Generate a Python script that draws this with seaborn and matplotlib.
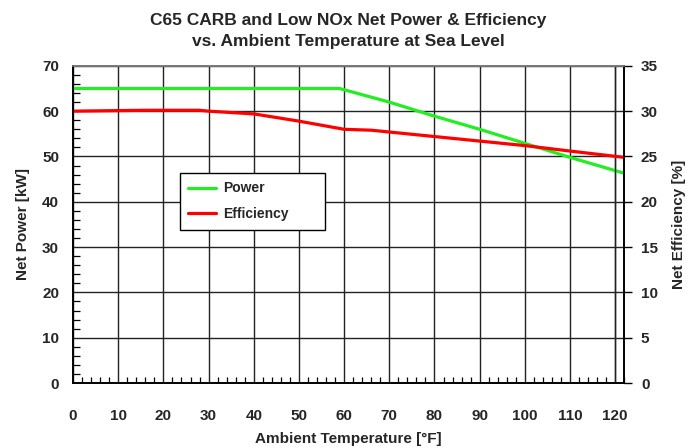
import matplotlib
matplotlib.use("Agg")
import matplotlib.pyplot as plt
import seaborn as sns
import pandas as pd
from matplotlib.ticker import MultipleLocator

# Data
power_temp = [0, 59, 70, 80, 90, 100, 110, 122]
power_kw = [65.0, 65.0, 62.0, 58.9, 56.0, 52.9, 49.8, 46.3]

eff_temp = [0, 16, 28, 30, 40, 50, 60, 66, 70, 80, 90, 100, 110, 122]
eff_pct = [30.0, 30.1, 30.1, 30.0, 29.7, 28.9, 28.0, 27.9, 27.7, 27.2, 26.7, 26.2, 25.6, 24.9]

x_ticks = list(range(0, 121, 10))
left_ticks = list(range(0, 71, 10))
right_ticks = list(range(0, 36, 5))

sns.set_theme(style="white")
plt.rcParams['font.family'] = ['Liberation Sans', 'DejaVu Sans']
plt.rcParams['font.weight'] = 'bold'

fig = plt.figure(figsize=(6.89, 4.48), dpi=100)
ax = fig.add_axes([0.106, 0.145, 0.800, 0.708])

df_p = pd.DataFrame({"T": power_temp, "P": power_kw})
df_e = pd.DataFrame({"T": eff_temp, "E": eff_pct})

sns.lineplot(data=df_p, x="T", y="P", ax=ax, color="#22EE22", linewidth=2.3,
             label="Power", legend=False)
ax2 = ax.twinx()
sns.lineplot(data=df_e, x="T", y="E", ax=ax2, color="#FF0000", linewidth=2.3,
             label="Efficiency", legend=False)

ax.set_xlim(0, 122)
ax.set_ylim(0, 70)
ax2.set_ylim(0, 35)
ax.set_xticks(x_ticks)
ax.set_yticks(left_ticks)
ax2.set_yticks(right_ticks)
ax.xaxis.set_minor_locator(MultipleLocator(2))
ax.yaxis.set_minor_locator(MultipleLocator(2))

ax.grid(True, which="major", color="#222222", linewidth=1.0)
ax.grid(False, which="minor")
ax.axvline(120, color="#222222", linewidth=1.0)

for a in (ax, ax2):
    for s in a.spines.values():
        s.set_color("black")
        s.set_linewidth(1.2)
ax.spines["top"].set_color("#777777")
ax2.spines["top"].set_color("#777777")

ax.tick_params(axis="x", which="major", direction="in", length=0, labelsize=11, pad=19)
ax.tick_params(axis="x", which="minor", direction="in", length=4, width=0.9, color="black", bottom=True)
ax.tick_params(axis="y", which="major", direction="in", length=0, labelsize=11, pad=10)
ax.tick_params(axis="y", which="minor", direction="in", length=5, width=0.9, color="black", left=True)
ax2.tick_params(axis="y", which="major", direction="out", length=6, width=1.0, color="black",
                labelsize=11, pad=6)

for lbl in ax.get_xticklabels() + ax.get_yticklabels() + ax2.get_yticklabels():
    lbl.set_fontweight("bold")

ax.set_xlabel("Ambient Temperature [°F]", fontsize=11, fontweight="bold", labelpad=6)
ax.set_ylabel("Net Power [kW]", fontsize=11, fontweight="bold", labelpad=9)
ax2.set_ylabel("Net Efficiency [%]", fontsize=11, fontweight="bold", labelpad=10)

fig.suptitle("C65 CARB and Low NOx Net Power & Efficiency\nvs. Ambient Temperature at Sea Level",
             fontsize=12.5, fontweight="bold", y=0.97, x=0.505, linespacing=1.5)

h1, l1 = ax.get_legend_handles_labels()
h2, l2 = ax2.get_legend_handles_labels()
leg = ax2.legend(h1 + h2, l1 + l2, loc="upper left",
                 bbox_to_anchor=(0.194, 0.483, 0.263, 0.179), mode="expand",
                 frameon=True, fancybox=False, edgecolor="black", framealpha=1,
                 prop={"weight": "bold", "size": 10}, handlelength=2.0,
                 borderpad=0.6, labelspacing=0.85, handletextpad=0.5, borderaxespad=0)
leg.get_frame().set_linewidth(1.0)

fig.savefig("out.png", dpi=100)
